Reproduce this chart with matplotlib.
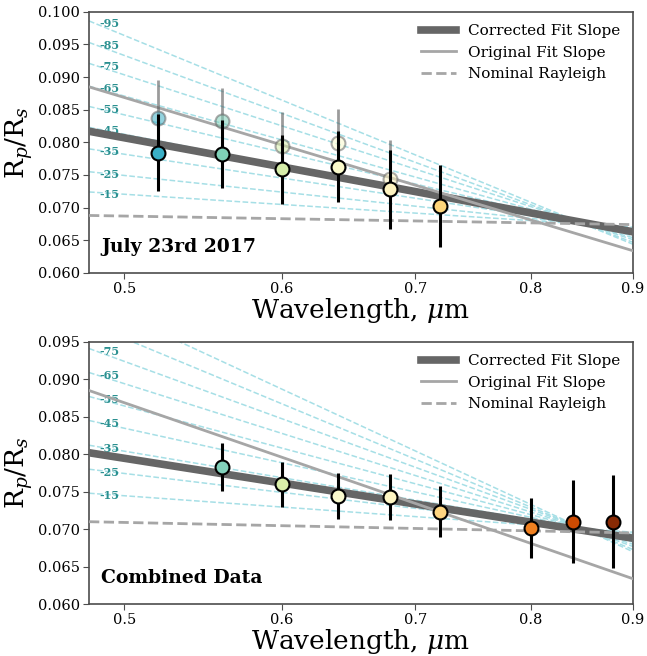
import numpy as np
import matplotlib
matplotlib.use("Agg")
import matplotlib.pyplot as plt
from matplotlib.ticker import FixedLocator, NullLocator, FormatStrFormatter

plt.rcParams['font.family'] = 'DejaVu Serif'
plt.rcParams['mathtext.fontset'] = 'dejavuserif'

# --- data ---
x_range = [0.48, 0.9]

# July 23rd 2017
jul_wave = [0.52, 0.56, 0.60, 0.64, 0.68, 0.72]
jul_rp = [0.0784, 0.0782, 0.0759, 0.0763, 0.0728, 0.0702]
jul_err = [0.0059, 0.0052, 0.0053, 0.0054, 0.0060, 0.0063]
jul_orig_wave = [0.52, 0.56, 0.60, 0.64, 0.68]
jul_orig_rp = [0.0837, 0.0833, 0.0795, 0.0799, 0.0744]
jul_orig_err = [0.0059, 0.0051, 0.0052, 0.0052, 0.0060]
jul_colors = ['#3aafc6', '#7fd0b8', '#d6edaa', '#fbfbcc', '#fdf3c0', '#fdd57a']
jul_corrected = [0.0817, 0.0663]
jul_nominal = [0.0688, 0.0674]
jul_slope_left = [0.0724, 0.0755, 0.0790, 0.0823, 0.0855, 0.0886, 0.0921, 0.0953, 0.0986]
jul_slope_right = [0.0670, 0.0667, 0.0664, 0.0660, 0.0657, 0.0654, 0.0651, 0.0647, 0.0644]

# Combined data
com_wave = [0.56, 0.60, 0.64, 0.68, 0.72, 0.80, 0.84, 0.88]
com_rp = [0.0783, 0.0760, 0.0744, 0.0743, 0.0723, 0.0701, 0.0710, 0.0710]
com_err = [0.0032, 0.0030, 0.0031, 0.0031, 0.0034, 0.0040, 0.0055, 0.0062]
com_colors = ['#82d1bb', '#d9efa9', '#fbfbcf', '#fdf5c3', '#fdd581',
              '#f08020', '#cc4a02', '#882a04']
com_corrected = [0.0802, 0.0688]
com_nominal = [0.0710, 0.0695]
com_slope_left = [0.0748, 0.0780, 0.0812, 0.0845, 0.0877, 0.0909, 0.0941, 0.0974, 0.1006]
com_slope_right = [0.0696, 0.0693, 0.0690, 0.0686, 0.0683, 0.0680, 0.0677, 0.0673, 0.0670]

original_fit = [0.0885, 0.0634]
slope_labels = ['-15', '-25', '-35', '-45', '-55', '-65', '-75', '-85', '-95']


def draw_panel(ax, wave, rp, err, colors, corrected, nominal, sl_left, sl_right,
               ylim, title, orig=None):
    for lab, yl, yr in zip(slope_labels, sl_left, sl_right):
        ax.plot(x_range, [yl, yr], '--', color='#a6dfe6', lw=1.1, zorder=1)
        if ylim[0] < yl < ylim[1] - 0.0005:
            ax.annotate(lab, xy=(0.4855, yl), xytext=(0, -2),
                        textcoords='offset points', va='center', ha='left',
                        fontsize=8, fontweight='bold', color='#2a9090', zorder=2)

    ax.plot(x_range, corrected, color='#666666', lw=5.5, zorder=3,
            label='Corrected Fit Slope')
    ax.plot(x_range, original_fit, color='#a6a6a6', lw=2, zorder=3,
            label='Original Fit Slope')
    ax.plot(x_range, nominal, '--', color='#a6a6a6', lw=2, zorder=3,
            label='Nominal Rayleigh')

    if orig is not None:
        ow, orp, oerr = orig
        for w, r, e, c in zip(ow, orp, oerr, colors):
            ax.errorbar(w, r, yerr=e, fmt='none', ecolor='0.35', alpha=0.6,
                        elinewidth=2, zorder=4)
            ax.plot(w, r, 'o', ms=10, mfc=c, mec='0.4', mew=1.5, alpha=0.55,
                    zorder=5)

    for w, r, e, c in zip(wave, rp, err, colors):
        ax.errorbar(w, r, yerr=e, fmt='none', ecolor='black',
                    elinewidth=2.2, zorder=6)
        ax.plot(w, r, 'o', ms=10, mfc=c, mec='black', mew=1.5, zorder=7)

    ax.set_xscale('log')
    ax.set_xlim(x_range)
    ax.set_ylim(ylim)
    ax.xaxis.set_major_locator(FixedLocator([0.5, 0.6, 0.7, 0.8, 0.9]))
    ax.xaxis.set_major_formatter(FormatStrFormatter('%.1f'))
    ax.xaxis.set_minor_locator(NullLocator())
    ax.yaxis.set_major_formatter(FormatStrFormatter('%.3f'))
    ax.tick_params(labelsize=10.5, length=4, color='0.3', pad=2.5)
    for sp in ax.spines.values():
        sp.set_color('0.3')
        sp.set_linewidth(1.2)

    ax.set_xlabel(r'Wavelength, $\mu$m', fontsize=19, labelpad=0)
    ax.set_ylabel(r'R$_p$/R$_s$', fontsize=19, labelpad=2)
    ax.text(0.022, 0.1, title, transform=ax.transAxes, fontsize=13.5,
            fontweight='bold', va='center', ha='left')
    ax.legend(loc='upper right', frameon=False, fontsize=11,
              handlelength=2.3, borderaxespad=0.4, labelspacing=0.5)


fig = plt.figure(figsize=(6.47, 6.56), dpi=100)
ax1 = fig.add_axes([0.1376, 0.584, 0.8405, 0.398])
ax2 = fig.add_axes([0.1376, 0.079, 0.8405, 0.400])

draw_panel(ax1, jul_wave, jul_rp, jul_err, jul_colors, jul_corrected,
           jul_nominal, jul_slope_left, jul_slope_right, (0.060, 0.100),
           'July 23rd 2017', orig=(jul_orig_wave, jul_orig_rp, jul_orig_err))
ax1.yaxis.set_major_locator(FixedLocator(np.arange(0.060, 0.1001, 0.005)))

draw_panel(ax2, com_wave, com_rp, com_err, com_colors, com_corrected,
           com_nominal, com_slope_left, com_slope_right, (0.060, 0.095),
           'Combined Data')
ax2.yaxis.set_major_locator(FixedLocator(np.arange(0.060, 0.0951, 0.005)))

fig.savefig('out.png', dpi=100)
